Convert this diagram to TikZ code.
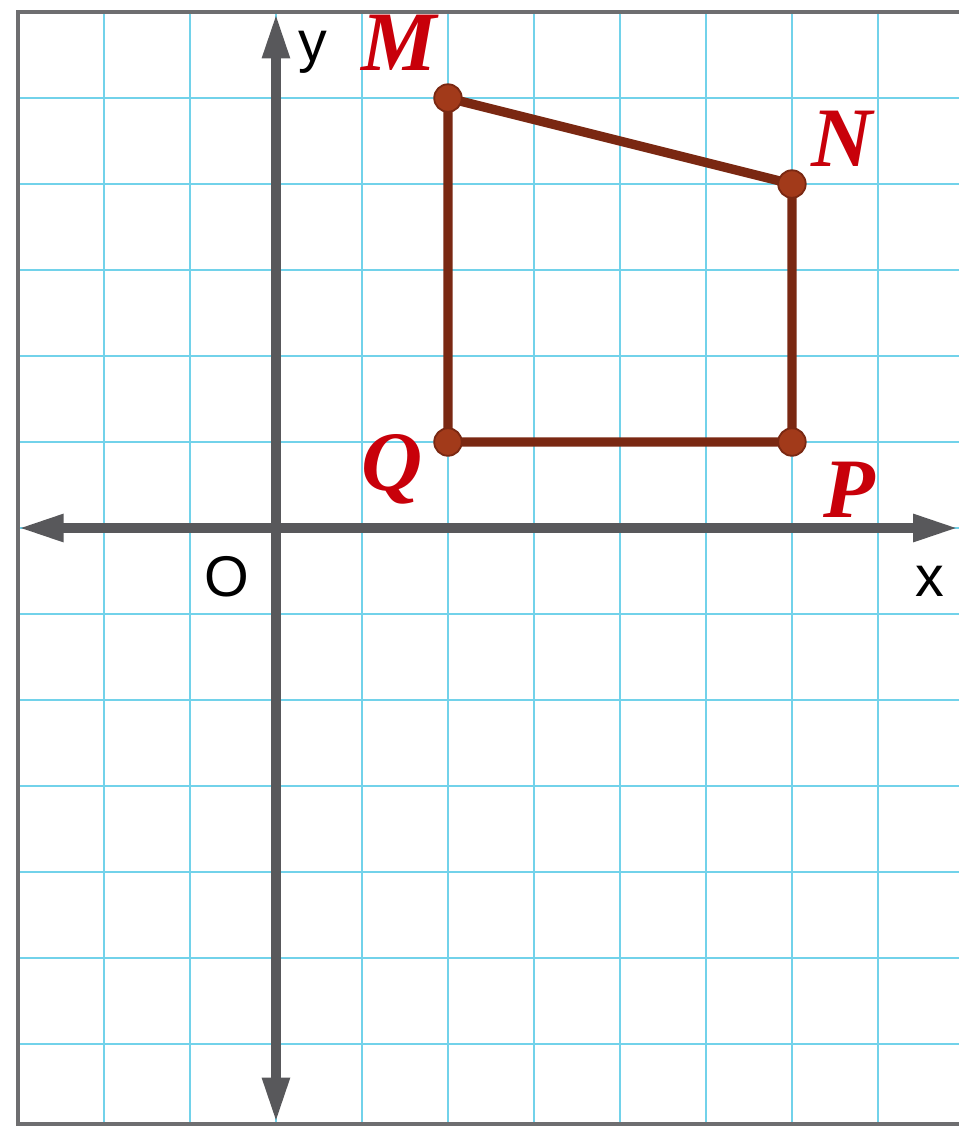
\documentclass[tikz,border=0pt]{standalone}
\usepackage{fontspec}
\setmainfont{Liberation Serif}
\setsansfont{Liberation Sans}
\usetikzlibrary{arrows.meta,positioning}
\definecolor{GridBlue}{HTML}{72D2EA}
\definecolor{Frame}{HTML}{6E6E70}
\definecolor{AxisGray}{HTML}{58585B}
\definecolor{Rust}{HTML}{7A2812}
\definecolor{RustDot}{HTML}{A23A1A}
\definecolor{LabelRed}{HTML}{C8000A}
\tikzset{
  gridline/.style={draw=GridBlue, line width=0.9pt},
  axis/.style={draw=AxisGray, line width=3pt,
    {Triangle[length=0.52cm, width=0.3cm]}-{Triangle[length=0.52cm, width=0.3cm]}},
  side/.style={draw=Rust, line width=3.1pt},
  vertex/.style={circle, fill=RustDot, draw=Rust, line width=0.6pt,
    minimum size=0.32cm, inner sep=0pt},
  ptlabel/.style={text=LabelRed, font=\fontsize{28}{30}\selectfont\bfseries\itshape,
    inner sep=0pt},
  axlabel/.style={font=\sffamily\fontsize{19}{22}\selectfont, inner sep=0pt}
}
\begin{document}
\begin{tikzpicture}
        \useasboundingbox (-3.209,-7.0) rectangle (7.942,6.140);
        % squared paper
        \draw[gridline] (-3,-6.93) grid (7.942,6);
        \draw[Frame, line width=1.2pt] (8.5,6) -- (-3,6) -- (-3,-6.93) -- (8.5,-6.93);
        % axes
        \coordinate (xl) at (-2.99,0); \coordinate (xr) at (7.93,0);
        \coordinate (yt) at (0,5.98); \coordinate (yb) at (0,-6.91);
        \draw[axis] (xl)--(xr); \draw[axis] (yb)--(yt);
        \node[axlabel] (o) at (-0.57,-0.57) {O};
        \node[axlabel] (xlab) at (7.6,-0.62) {x};
        \node[axlabel] (ylab) at (0.43,5.53) {y};
        % quadrilateral MNPQ
        \coordinate (M) at (2,5); \coordinate (N) at (6,4);
        \coordinate (P) at (6,1); \coordinate (Q) at (2,1);
        \draw[side] (M)--(N)--(P)--(Q)--cycle;
        \node[vertex] (m) at (M) {}; \node[vertex] (n) at (N) {};
        \node[vertex] (p) at (P) {}; \node[vertex] (q) at (Q) {};
        \node[ptlabel] (lm) at (1.43,5.64) {M};
        \node[ptlabel] (ln) at (6.58,4.53) {N};
        \node[ptlabel] (lp) at (6.67,0.44) {P};
        \node[ptlabel] (lq) at (1.35,0.68) {Q};
      \end{tikzpicture}
\end{document}
